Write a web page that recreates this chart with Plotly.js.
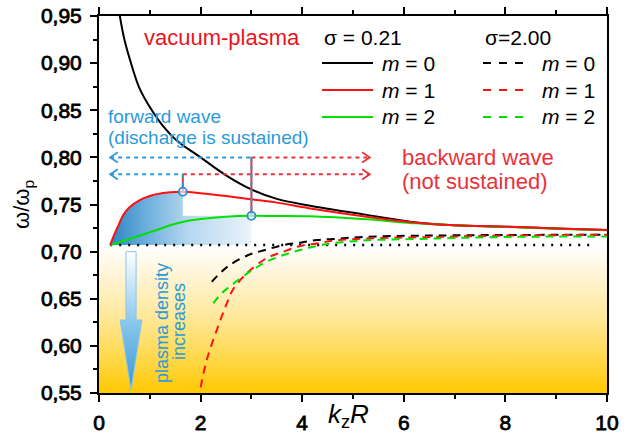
<!DOCTYPE html>
<html><head><meta charset="utf-8">
<script src="https://cdn.plot.ly/plotly-3.0.1.min.js"></script>
<style>html,body{margin:0;padding:0;background:#fff}#chart{width:630px;height:437px}
#chart g.xtick text, #chart g.ytick text{stroke:#000 !important;stroke-width:0.8px !important}
</style>
</head><body><div id="chart"></div>
<script>
// ---- data (x = kzR, y = omega/omega_p) ----
const kR_s021_m0 = [0.40, 0.50, 0.63, 0.80, 1.04, 1.25, 1.53, 2.00, 2.50, 3.00, 3.50, 4.13, 5.27, 6.25, 7.00, 8.00, 9.00, 10.0];
const w_s021_m0  = [0.953, 0.925, 0.900, 0.873, 0.850, 0.834, 0.818, 0.800, 0.781, 0.766, 0.756, 0.749, 0.739, 0.731, 0.728, 0.7265, 0.7245, 0.723];

const kR_s021_m1 = [0.22, 0.30, 0.40, 0.48, 0.60, 0.81, 1.00, 1.14, 1.40, 1.65, 2.00, 2.50, 3.00, 3.50, 4.13, 5.27, 6.25, 7.00, 8.00, 9.00, 10.0];
const w_s021_m1  = [0.707, 0.718, 0.730, 0.739, 0.747, 0.755, 0.759, 0.761, 0.763, 0.7636, 0.762, 0.759, 0.7555, 0.752, 0.746, 0.737, 0.7307, 0.728, 0.7265, 0.7245, 0.723];

const kR_s021_m2 = [0.22, 0.40, 0.60, 0.80, 1.00, 1.14, 1.40, 1.67, 2.00, 2.50, 3.00, 3.50, 4.13, 5.27, 6.25, 7.00, 8.00, 9.00, 10.0];
const w_s021_m2  = [0.707, 0.710, 0.7135, 0.717, 0.7205, 0.723, 0.728, 0.7318, 0.7345, 0.737, 0.7380, 0.7378, 0.7375, 0.7343, 0.730, 0.728, 0.7262, 0.7243, 0.7228];

const kR_s200_m0 = [2.22, 2.40, 2.58, 2.94, 3.27, 3.63, 3.96, 4.29, 4.61, 5.27, 6.25, 7.00, 8.00, 9.00, 10.0];
const w_s200_m0  = [0.668, 0.678, 0.686, 0.6964, 0.7017, 0.707, 0.7095, 0.7123, 0.7134, 0.7158, 0.7169, 0.7173, 0.7177, 0.7178, 0.718];

const kR_s200_m1 = [2.00, 2.12, 2.32, 2.50, 2.64, 2.80, 2.97, 3.30, 3.63, 3.96, 4.31, 4.61, 5.27, 6.25, 7.00, 8.00, 9.00, 10.0];
const w_s200_m1  = [0.556, 0.585, 0.617, 0.643, 0.660, 0.671, 0.680, 0.693, 0.700, 0.706, 0.7088, 0.7116, 0.714, 0.7152, 0.716, 0.717, 0.7175, 0.718];

const kR_s200_m2 = [2.25, 2.40, 2.61, 2.97, 3.30, 3.63, 3.96, 4.29, 4.61, 5.27, 6.25, 7.00, 8.00, 9.00, 10.0];
const w_s200_m2  = [0.645, 0.655, 0.6646, 0.6787, 0.6893, 0.6964, 0.7017, 0.706, 0.709, 0.712, 0.7134, 0.7145, 0.7155, 0.716, 0.716];

const resonance = 0.7071;          // omega/omega_p = 1/sqrt(2)
const resonanceSpan = [0.22, 9.72];
const arrowLevels = [0.800, 0.782]; // horizontal arrow rows
const arrowTipLeft = 0.22, arrowTipRight = 5.33;

const xTicks = [0, 2, 4, 6, 8, 10];
const yTicks = [0.55, 0.60, 0.65, 0.70, 0.75, 0.80, 0.85, 0.90, 0.95];

// ---- helpers ----
function peak(xs, ys) { let i = 0; ys.forEach((v, j) => { if (v > ys[i]) i = j; }); return {x: xs[i], y: ys[i]}; }
const pk1 = peak(kR_s021_m1, w_s021_m1);
const pk2 = peak(kR_s021_m2, w_s021_m2);

const BLUE = '#2b9bd8', RED = '#e8323a', GREEN = '#00e000', PURE_RED = '#ff1010';
const FONT = 'Liberation Sans, Arial, sans-serif';

// shaded forward-wave region: under m=1 curve up to its peak, then a band up to the m=2 peak
const shX = [], shY = [];
kR_s021_m1.forEach((x, i) => { if (x <= pk1.x) { shX.push(x); shY.push(w_s021_m1[i]); } });
shX.push(pk1.x, pk2.x, pk2.x, kR_s021_m1[0]);
shY.push(pk2.y, pk2.y, resonance, resonance);

// big "plasma density increases" arrow (decoration)
const ax0 = 0.63, aShaft = 0.20, aHead = 0.43, aTop = 0.700, aNeck = 0.6275, aTip = 0.553;
// chevron arrowhead size (axis units)
const chevDX = 0.15, chevDY = 0.0055;

const line = (x, y, color, extra) => Object.assign({x: x, y: y, mode: 'lines', line: Object.assign({color: color, width: 2}, extra || {}), showlegend: false, hoverinfo: 'skip'});

const traces = [
  { // yellow band below resonance
    x: [0, 10, 10, 0], y: [0.55, 0.55, resonance, resonance], mode: 'none', fill: 'toself',
    fillgradient: {type: 'vertical', start: 0.55, stop: resonance,
      colorscale: [[0, '#ffc800'], [0.2, '#ffd640'], [0.5, '#ffe796'], [0.8, '#fff5d8'], [1, '#ffffff']]},
    hoverinfo: 'skip', showlegend: false },
  { // blue shading
    x: shX, y: shY, mode: 'none', fill: 'toself',
    fillgradient: {type: 'horizontal', start: kR_s021_m1[0], stop: pk2.x,
      colorscale: [[0, '#2c84c4'], [0.25, '#6aaedc'], [0.55, '#b5d7ef'], [1, '#eaf4fb']]},
    hoverinfo: 'skip', showlegend: false },
  { // big arrow
    x: [ax0 - aShaft/2, ax0 + aShaft/2, ax0 + aShaft/2, ax0 + aHead/2, ax0, ax0 - aHead/2, ax0 - aShaft/2, ax0 - aShaft/2],
    y: [aTop, aTop, aNeck, aNeck, aTip, aNeck, aNeck, aTop],
    mode: 'lines', line: {color: '#8cc6ea', width: 1}, fill: 'toself',
    fillgradient: {type: 'vertical', start: aTip, stop: aTop,
      colorscale: [[0, '#3597d6'], [0.5, '#8cc8ec'], [1, '#ffffff']]},
    hoverinfo: 'skip', showlegend: false },
  line(resonanceSpan, [resonance, resonance], '#000', {width: 2.5, dash: '2px,7px'}),
  // dashed sigma = 2.00
  line(kR_s200_m0, w_s200_m0, '#000', {dash: '8px,6px', shape: 'spline'}),
  line(kR_s200_m1, w_s200_m1, PURE_RED, {dash: '8px,6px', shape: 'spline'}),
  line(kR_s200_m2, w_s200_m2, GREEN, {dash: '8px,6px', shape: 'spline'}),
  // solid sigma = 0.21
  line(kR_s021_m0, w_s021_m0, '#000', {shape: 'spline'}),
  line(kR_s021_m2, w_s021_m2, GREEN, {shape: 'spline'}),
  line(kR_s021_m1, w_s021_m1, PURE_RED, {shape: 'spline'}),
  // horizontal arrows: forward (blue) and backward (red)
  line([arrowTipLeft, pk2.x], [arrowLevels[0], arrowLevels[0]], BLUE, {dash: '4px,4px'}),
  line([pk2.x, arrowTipRight], [arrowLevels[0], arrowLevels[0]], RED, {dash: '4px,4px'}),
  line([arrowTipLeft, pk1.x], [arrowLevels[1], arrowLevels[1]], BLUE, {dash: '4px,4px'}),
  line([pk1.x, arrowTipRight], [arrowLevels[1], arrowLevels[1]], RED, {dash: '4px,4px'}),
  // vertical connectors (red with blue dashes)
  line([pk1.x, pk1.x], [arrowLevels[1], pk1.y], RED),
  line([pk1.x, pk1.x], [arrowLevels[1], pk1.y], BLUE, {dash: '4px,4px'}),
  line([pk2.x, pk2.x], [arrowLevels[0], pk2.y], RED),
  line([pk2.x, pk2.x], [arrowLevels[0], pk2.y], BLUE, {dash: '4px,4px'}),
  { // peak markers
    x: [pk1.x, pk2.x], y: [pk1.y, pk2.y], mode: 'markers',
    marker: {symbol: 'circle', size: 8, color: 'rgba(255,255,255,0.6)', line: {color: '#2a8fd0', width: 1.8}}, showlegend: false }
];
// chevron arrowheads
arrowLevels.forEach(lv => {
  traces.push(line([arrowTipLeft + chevDX, arrowTipLeft, arrowTipLeft + chevDX], [lv + chevDY, lv, lv - chevDY], BLUE, {width: 1.8}));
  traces.push(line([arrowTipRight - chevDX, arrowTipRight, arrowTipRight - chevDX], [lv + chevDY, lv, lv - chevDY], RED, {width: 1.8}));
});

// legend (drawn manually, two columns)
const P = {l: 99, r: 607, t: 16, b: 393};
const px = v => (v - P.l) / (P.r - P.l);
const py = v => (P.b - v) / (P.b - P.t);
const rows = [63, 90, 117];
const legColors = ['#000', PURE_RED, GREEN];
const shapes = [];
const annotations = [];
rows.forEach((r, i) => {
  shapes.push({type: 'line', xref: 'paper', yref: 'paper', x0: px(322), x1: px(373), y0: py(r), y1: py(r), line: {color: legColors[i], width: 2}});
  shapes.push({type: 'line', xref: 'paper', yref: 'paper', x0: px(483), x1: px(526), y0: py(r), y1: py(r), line: {color: legColors[i], width: 2, dash: '8px,8px'}});
  annotations.push({xref: 'paper', yref: 'paper', x: px(380), y: py(r), xanchor: 'left', yanchor: 'middle', showarrow: false,
    text: '<i>m</i> = ' + i, font: {family: FONT, size: 21, color: '#000'}});
  annotations.push({xref: 'paper', yref: 'paper', x: px(540), y: py(r), xanchor: 'left', yanchor: 'middle', showarrow: false,
    text: '<i>m</i> = ' + i, font: {family: FONT, size: 21, color: '#000'}});
});
const txt = (x, y, text, size, color, anchor, extra) => Object.assign({xref: 'paper', yref: 'paper', x: px(x), y: py(y),
  xanchor: anchor || 'left', yanchor: 'middle', showarrow: false, text: text, font: {family: FONT, size: size, color: color}}, extra || {});
annotations.push(txt(322, 37, 'σ = 0.21', 21, '#000'));
annotations.push(txt(483, 37, 'σ=2.00', 21, '#000'));
annotations.push(txt(222, 38, 'vacuum-plasma', 22, '#e8141c', 'center'));
annotations.push(txt(106, 116, 'forward wave', 19, BLUE));
annotations.push(txt(106, 137, '(discharge is sustained)', 19, BLUE));
annotations.push(txt(400, 157, 'backward wave', 22, RED));
annotations.push(txt(400, 181, '(not sustained)', 22, RED));
annotations.push(txt(162, 323, 'plasma density', 18, BLUE, 'center', {textangle: -90}));
annotations.push(txt(179, 322, 'increases', 18, BLUE, 'center', {textangle: -90}));
// axis titles
annotations.push({xref: 'paper', yref: 'paper', x: px(348), y: 0, xanchor: 'center', yanchor: 'top', yshift: -4, showarrow: false,
  text: '<i>k</i><sub>z</sub><i>R</i>', font: {family: FONT, size: 26, color: '#000'}});
annotations.push({xref: 'paper', yref: 'paper', x: px(23), y: py(205), xanchor: 'center', yanchor: 'middle', showarrow: false, textangle: -90,
  text: 'ω/ω<sub>p</sub>', font: {family: FONT, size: 22, color: '#000'}});

const layout = {
  width: 630, height: 437,
  margin: {l: P.l, r: 630 - P.r, t: P.t, b: 437 - P.b, pad: 0},
  paper_bgcolor: '#fff', plot_bgcolor: '#fff',
  showlegend: false,
  xaxis: {range: [0, 10], tickvals: xTicks, ticktext: xTicks.map(String), ticks: 'outside', ticklen: 7, tickwidth: 2, tickcolor: '#000',
    showline: true, linewidth: 2, linecolor: '#000', mirror: 'allticks', showgrid: false, zeroline: false,
    tickfont: {family: FONT, size: 21, color: '#000'}, ticklabelstandoff: 3,
    minor: {dtick: 1, ticks: 'outside', ticklen: 4, tickwidth: 2, tickcolor: '#000', showgrid: false}},
  yaxis: {range: [0.55, 0.95], tickvals: yTicks, ticktext: yTicks.map(v => v.toFixed(2).replace('.', ',')),
    ticks: 'outside', ticklen: 7, tickwidth: 2, tickcolor: '#000',
    showline: true, linewidth: 2, linecolor: '#000', mirror: true, showgrid: false, zeroline: false,
    tickfont: {family: FONT, size: 21, color: '#000'}, ticklabelstandoff: 4,
    minor: {dtick: 0.025, ticks: 'outside', ticklen: 4, tickwidth: 2, tickcolor: '#000', showgrid: false}},
  shapes: shapes,
  annotations: annotations
};
Plotly.newPlot('chart', traces, layout, {displayModeBar: false, staticPlot: true});
</script>
</body></html>
